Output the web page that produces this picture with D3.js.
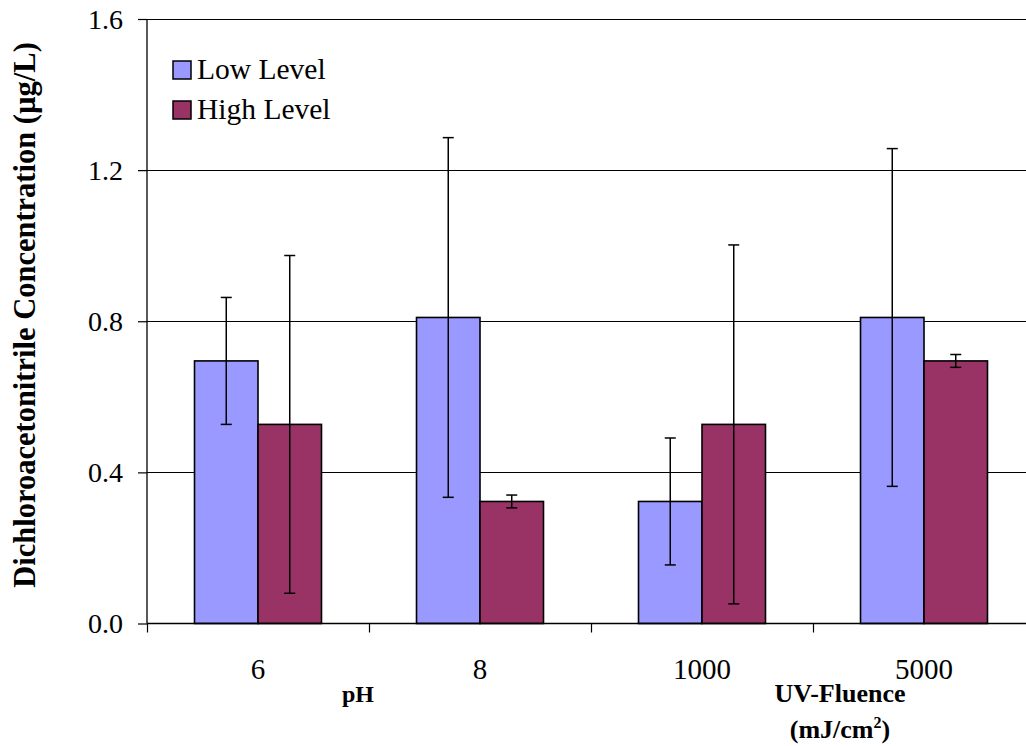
<!DOCTYPE html>
<html>
<head>
<meta charset="utf-8">
<script src="https://cdn.jsdelivr.net/npm/d3@7/dist/d3.min.js"></script>
<style>
  html, body { margin: 0; padding: 0; background: #fff; }
  svg { display: block; font-family: "Liberation Serif", "Times New Roman", serif; }
</style>
</head>
<body>
<svg id="chart" width="1026" height="746"></svg>
<script>
// Dichloroacetonitrile concentration by factor level
const categories = ["6", "8", "1000", "5000"];
const seriesNames = ["Low Level", "High Level"];
const lowValues  = [0.695, 0.810, 0.323, 0.810];
const highValues = [0.527, 0.323, 0.527, 0.695];
const lowErrors  = [0.168, 0.476, 0.168, 0.447];
const highErrors = [0.447, 0.017, 0.475, 0.017];
const yTicks = [0.0, 0.4, 0.8, 1.2, 1.6];
const colors = ["#9999FF", "#993366"];

const svg = d3.select("#chart");
const plotLeft = 147, plotRight = 1035, plotTop = 19, plotBottom = 623.5;

const y = d3.scaleLinear().domain([0, 1.6]).range([plotBottom, plotTop]);
const x = d3.scaleBand().domain(categories).range([plotLeft, plotRight])
  .paddingInner(0.428).paddingOuter(0.214);
const x1 = d3.scaleBand().domain(seriesNames).range([0, x.bandwidth()]);

const rows = categories.map((c, i) => ({
  cat: c,
  items: [
    { s: seriesNames[0], v: lowValues[i],  e: lowErrors[i],  color: colors[0] },
    { s: seriesNames[1], v: highValues[i], e: highErrors[i], color: colors[1] }
  ]
}));

// horizontal gridlines
svg.append("g").selectAll("line").data(yTicks.slice(1)).join("line")
  .attr("x1", plotLeft).attr("x2", 1026)
  .attr("y1", d => Math.round(y(d)) + 0.5).attr("y2", d => Math.round(y(d)) + 0.5)
  .attr("stroke", "#000").attr("stroke-width", 1);

// bars
const groups = svg.append("g").selectAll("g").data(rows).join("g")
  .attr("transform", d => `translate(${x(d.cat)},0)`);
groups.selectAll("rect").data(d => d.items).join("rect")
  .attr("x", d => x1(d.s))
  .attr("y", d => y(d.v))
  .attr("width", x1.bandwidth())
  .attr("height", d => y(0) - y(d.v))
  .attr("fill", d => d.color)
  .attr("stroke", "#000").attr("stroke-width", 1.6);

// error bars
const eb = groups.selectAll("g.err").data(d => d.items).join("g").attr("class", "err")
  .attr("transform", d => `translate(${x1(d.s) + x1.bandwidth() / 2},0)`);
eb.append("line").attr("x1", 0).attr("x2", 0)
  .attr("y1", d => y(d.v + d.e)).attr("y2", d => y(d.v - d.e))
  .attr("stroke", "#000").attr("stroke-width", 1.5);
eb.selectAll("line.cap").data(d => [d.v + d.e, d.v - d.e]).join("line").attr("class", "cap")
  .attr("x1", -5.5).attr("x2", 5.5)
  .attr("y1", d => y(d)).attr("y2", d => y(d))
  .attr("stroke", "#000").attr("stroke-width", 1.5);

// y axis
const yAxis = svg.append("g").attr("transform", `translate(${plotLeft},0)`)
  .call(d3.axisLeft(y).tickValues(yTicks).tickFormat(d3.format(".1f")).tickSize(9).tickPadding(15));
yAxis.select(".domain").attr("stroke", "#000").attr("stroke-width", 1.3)
  .attr("d", `M0,${plotTop}V${plotBottom}`);
yAxis.selectAll(".tick line").attr("stroke", "#000").attr("stroke-width", 1.2);
yAxis.selectAll(".tick text").attr("font-family", "Liberation Serif, Times New Roman, serif")
  .attr("font-size", 28).attr("fill", "#000").attr("dy", "0.33em");

// x axis baseline and category separators
svg.append("line").attr("x1", plotLeft).attr("x2", 1026)
  .attr("y1", plotBottom).attr("y2", plotBottom).attr("stroke", "#000").attr("stroke-width", 1.3);
const half = (x.step() - x.bandwidth()) / 2;
svg.append("g").selectAll("line").data(categories).join("line")
  .attr("x1", d => Math.round(x(d) - half) + 0.5).attr("x2", d => Math.round(x(d) - half) + 0.5)
  .attr("y1", plotBottom).attr("y2", plotBottom + 9)
  .attr("stroke", "#000").attr("stroke-width", 1.2);
svg.append("g").selectAll("text").data(categories).join("text")
  .attr("x", d => x(d) + x.bandwidth() / 2).attr("y", 679)
  .attr("text-anchor", "middle").attr("font-size", 29).attr("fill", "#000")
  .text(d => d);

// factor labels
svg.append("text").attr("x", 358).attr("y", 702).attr("text-anchor", "middle")
  .attr("font-size", 24).attr("font-weight", "bold").text("pH");
svg.append("text").attr("x", 840).attr("y", 702).attr("text-anchor", "middle")
  .attr("font-size", 26).attr("font-weight", "bold").text("UV-Fluence");
const unit = svg.append("text").attr("x", 840).attr("y", 738).attr("text-anchor", "middle")
  .attr("font-size", 26).attr("font-weight", "bold");
unit.append("tspan").text("(mJ/cm");
unit.append("tspan").attr("font-size", 16).attr("dy", -10).text("2");
unit.append("tspan").attr("dy", 10).text(")");

// y axis title
svg.append("text")
  .attr("transform", "translate(35,315) rotate(-90)")
  .attr("text-anchor", "middle").attr("font-size", 30.5).attr("font-weight", "bold")
  .text("Dichloroacetonitrile Concentration (µg/L)");

// legend
const legend = svg.append("g").selectAll("g").data(seriesNames).join("g")
  .attr("transform", (d, i) => `translate(173,${61 + i * 40})`);
legend.append("rect").attr("width", 18).attr("height", 18)
  .attr("fill", (d, i) => colors[i]).attr("stroke", "#000").attr("stroke-width", 1.5);
legend.append("text").attr("x", 24).attr("y", 17.5)
  .attr("font-size", 29.5).attr("fill", "#000").text(d => d);
</script>
</body>
</html>
